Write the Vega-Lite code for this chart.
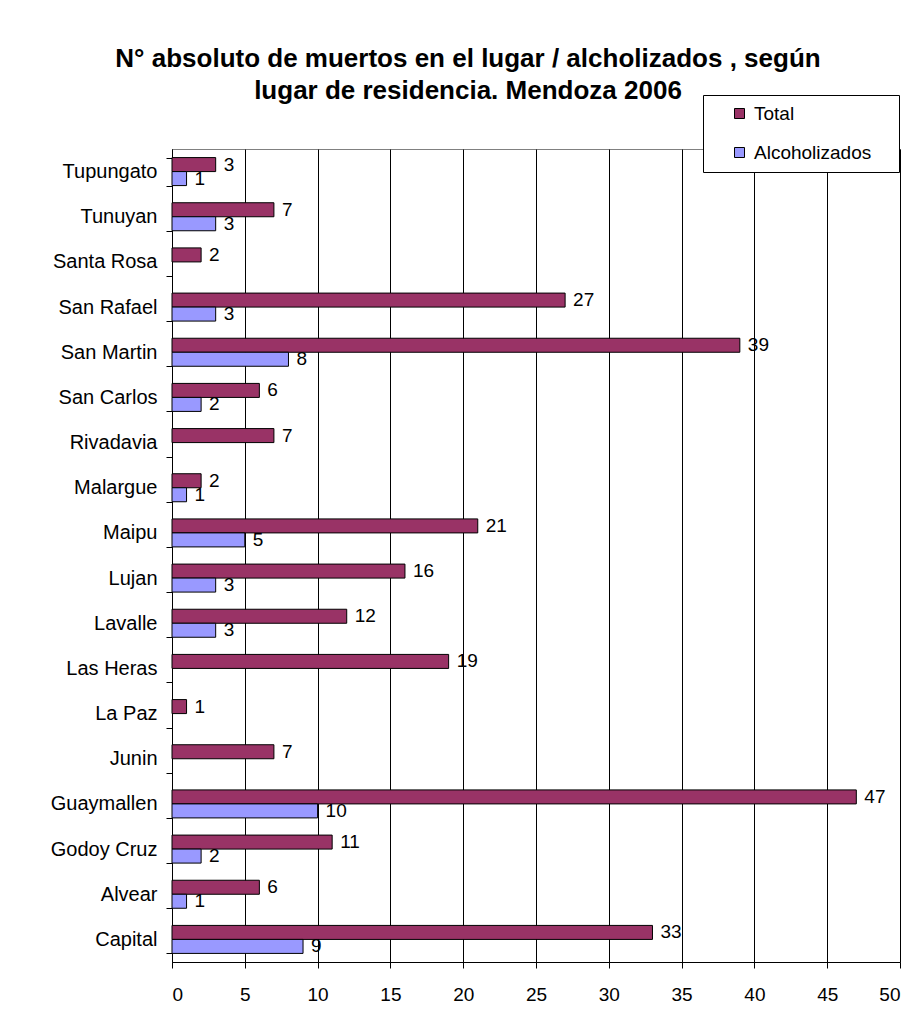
{
  "$schema": "https://vega.github.io/schema/vega-lite/v6.json",
  "autosize": {"type": "none"},
  "padding": {"left": 172, "top": 149, "right": 16, "bottom": 63},
  "width": 728,
  "height": 813,
  "background": "white",
  "title": {
    "text": ["N° absoluto de muertos en el lugar / alcholizados , según", "lugar de residencia. Mendoza 2006"],
    "font": "Liberation Sans",
    "fontSize": 26,
    "fontWeight": "bold",
    "color": "black",
    "lineHeight": 32,
    "anchor": "middle",
    "frame": "group",
    "dx": -68,
    "offset": -9
  },
  "data": {
    "values": [
      {"lugar": "Tupungato", "serie": "Total", "valor": 3},
      {"lugar": "Tupungato", "serie": "Alcoholizados", "valor": 1},
      {"lugar": "Tunuyan", "serie": "Total", "valor": 7},
      {"lugar": "Tunuyan", "serie": "Alcoholizados", "valor": 3},
      {"lugar": "Santa Rosa", "serie": "Total", "valor": 2},
      {"lugar": "San Rafael", "serie": "Total", "valor": 27},
      {"lugar": "San Rafael", "serie": "Alcoholizados", "valor": 3},
      {"lugar": "San Martin", "serie": "Total", "valor": 39},
      {"lugar": "San Martin", "serie": "Alcoholizados", "valor": 8},
      {"lugar": "San Carlos", "serie": "Total", "valor": 6},
      {"lugar": "San Carlos", "serie": "Alcoholizados", "valor": 2},
      {"lugar": "Rivadavia", "serie": "Total", "valor": 7},
      {"lugar": "Malargue", "serie": "Total", "valor": 2},
      {"lugar": "Malargue", "serie": "Alcoholizados", "valor": 1},
      {"lugar": "Maipu", "serie": "Total", "valor": 21},
      {"lugar": "Maipu", "serie": "Alcoholizados", "valor": 5},
      {"lugar": "Lujan", "serie": "Total", "valor": 16},
      {"lugar": "Lujan", "serie": "Alcoholizados", "valor": 3},
      {"lugar": "Lavalle", "serie": "Total", "valor": 12},
      {"lugar": "Lavalle", "serie": "Alcoholizados", "valor": 3},
      {"lugar": "Las Heras", "serie": "Total", "valor": 19},
      {"lugar": "La Paz", "serie": "Total", "valor": 1},
      {"lugar": "Junin", "serie": "Total", "valor": 7},
      {"lugar": "Guaymallen", "serie": "Total", "valor": 47},
      {"lugar": "Guaymallen", "serie": "Alcoholizados", "valor": 10},
      {"lugar": "Godoy Cruz", "serie": "Total", "valor": 11},
      {"lugar": "Godoy Cruz", "serie": "Alcoholizados", "valor": 2},
      {"lugar": "Alvear", "serie": "Total", "valor": 6},
      {"lugar": "Alvear", "serie": "Alcoholizados", "valor": 1},
      {"lugar": "Capital", "serie": "Total", "valor": 33},
      {"lugar": "Capital", "serie": "Alcoholizados", "valor": 9}
    ]
  },
  "encoding": {
    "y": {
      "field": "lugar",
      "type": "nominal",
      "scale": {
        "domain": ["Tupungato", "Tunuyan", "Santa Rosa", "San Rafael", "San Martin", "San Carlos", "Rivadavia", "Malargue", "Maipu", "Lujan", "Lavalle", "Las Heras", "La Paz", "Junin", "Guaymallen", "Godoy Cruz", "Alvear", "Capital"],
        "paddingInner": 0.38,
        "paddingOuter": 0.19
      },
      "axis": {
        "title": null,
        "grid": false,
        "domainColor": "black",
        "domainWidth": 1,
        "tickColor": "black",
        "tickSize": 6,
        "tickBand": "extent",
        "labelFont": "Liberation Sans",
        "labelFontSize": 20,
        "labelColor": "black",
        "labelPadding": 9
      }
    },
    "yOffset": {
      "field": "serie",
      "type": "nominal",
      "scale": {"domain": ["Total", "Alcoholizados"], "paddingInner": 0, "paddingOuter": 0}
    },
    "x": {
      "field": "valor",
      "type": "quantitative",
      "scale": {"domain": [0, 50], "nice": false},
      "axis": {
        "title": null,
        "values": [0, 5, 10, 15, 20, 25, 30, 35, 40, 45, 50],
        "grid": true,
        "gridColor": "black",
        "gridOpacity": 1,
        "gridWidth": 1,
        "domainColor": "black",
        "tickColor": "black",
        "tickSize": 6,
        "labelFont": "Liberation Sans",
        "labelFontSize": 19,
        "labelColor": "black",
        "labelPadding": 17
      }
    }
  },
  "layer": [
    {
      "mark": {"type": "bar", "stroke": "black", "strokeWidth": 1},
      "encoding": {
        "color": {
          "field": "serie",
          "type": "nominal",
          "scale": {"domain": ["Total", "Alcoholizados"], "range": ["#993366", "#9999FF"]},
          "legend": {
            "orient": "none",
            "legendX": 531,
            "legendY": -54,
            "title": " ",
            "titleOrient": "right",
            "titlePadding": 19,
            "padding": 9,
            "symbolOffset": 18,
            "symbolType": "square",
            "symbolSize": 100,
            "symbolStrokeColor": "black",
            "symbolStrokeWidth": 1,
            "labelFont": "Liberation Sans",
            "labelFontSize": 19,
            "labelColor": "black",
            "labelOffset": 5,
            "rowPadding": 19,
            "strokeColor": "black",
            "fillColor": "white"
          }
        }
      }
    },
    {
      "mark": {"type": "text", "align": "left", "baseline": "middle", "dx": 8, "font": "Liberation Sans", "fontSize": 19, "color": "black"},
      "encoding": {"text": {"field": "valor", "type": "quantitative"}}
    }
  ],
  "config": {
    "view": {"stroke": "#808080"}
  }
}
